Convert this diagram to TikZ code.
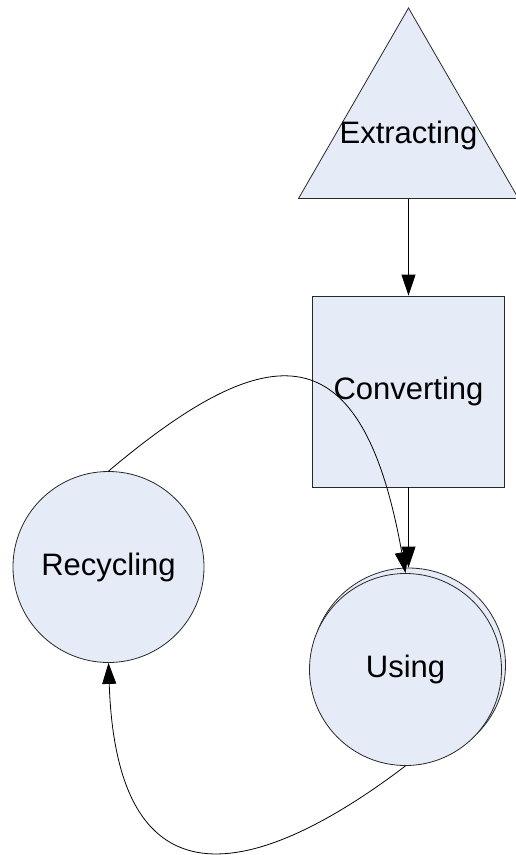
\documentclass[tikz,border=0pt]{standalone}
\usepackage{fontspec}
\setmainfont{Liberation Sans}
\usetikzlibrary{shapes.geometric,arrows.meta}
\definecolor{nodefill}{RGB}{230,236,247}
\definecolor{nodeline}{RGB}{40,40,40}
\tikzset{
  shapebase/.style={draw=nodeline, fill=nodefill, line width=0.8pt, inner sep=0pt,
    font=\fontsize{31}{36}\selectfont},
  trishape/.style={shapebase, regular polygon, regular polygon sides=3, minimum size=254pt},
  boxshape/.style={shapebase, rectangle, minimum width=192pt, minimum height=191pt},
  circshape/.style={shapebase, circle},
  conn/.style={line width=0.8pt, draw=black, -{Triangle[length=21pt,width=14pt]}},
}
\begin{document}
\begin{tikzpicture}[x=1pt,y=-1pt]
  \fill[white] (0,0) rectangle (515,855);
  \useasboundingbox (0,0) rectangle (515,855);
  \node[trishape, label={[font=\fontsize{31}{36}\selectfont]center:Extracting}] (ext) at (408.5,135) {};
  \node[boxshape] (conv) at (408.5,391.5) {Converting};
  \node[circshape, minimum size=194pt] (useback) at (408.5,665) {};
  \node[circshape, minimum size=192pt] (use) at (405.5,669.5) {Using};
  \node[circshape, minimum size=191pt] (rec) at (108.5,567) {Recycling};
  \draw[conn] (ext.south) -- (conv.north);
  \draw[conn] (conv.south) -- (useback.north);
  \draw[conn] (rec.north) .. controls (270,335) and (362,330) .. (use.north);
  \draw[conn] (use.south) .. controls (292,852) and (118,942) .. (rec.south);
\end{tikzpicture}
\end{document}
